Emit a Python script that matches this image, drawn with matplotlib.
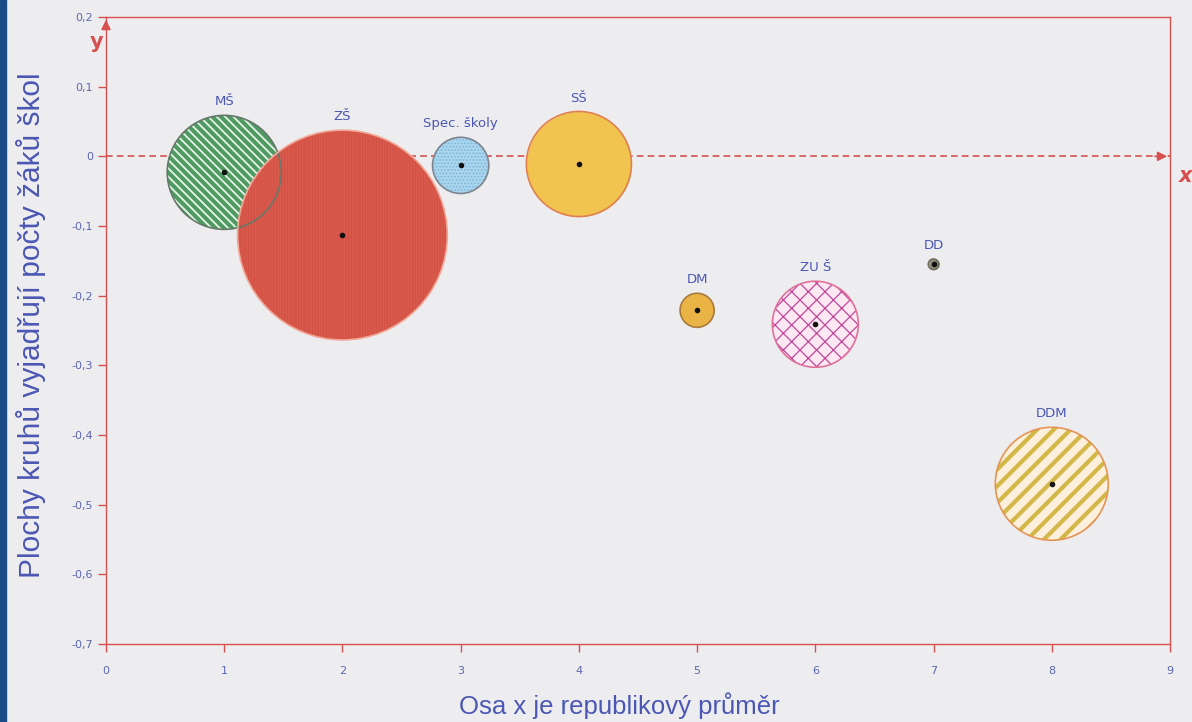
import numpy as np
import matplotlib.pyplot as plt
from matplotlib.patches import Rectangle

# typy skol, poloha na ose x a odchylka od republikoveho prumeru
skoly = ['MŠ', 'ZŠ', 'Spec. školy', 'SŠ', 'DM', 'ZU Š', 'DD', 'DDM']
osa_x = [1, 2, 3, 4, 5, 6, 7, 8]
odchylka = [-0.023, -0.113, -0.013, -0.011, -0.221, -0.241, -0.155, -0.470]
# plochy kruhu (pocty zaku, relativne)
plocha = [3250, 11000, 790, 2760, 290, 1850, 28, 3190]

y_ticks = [0.2, 0.1, 0, -0.1, -0.2, -0.3, -0.4, -0.5, -0.6, -0.7]
y_tick_labels = ['0,2', '0,1', '0', '-0,1', '-0,2', '-0,3', '-0,4', '-0,5', '-0,6', '-0,7']
x_ticks = list(range(10))

barvy = ['#4f9a63', '#d95a4c', '#aad6ee', '#f1c44f', '#e9b445', '#fbe8f3', '#8e8c78', '#fcf0dc']
srafy = ['\\\\\\\\', '||||||', '.....', None, None, 'xx', None, '//']
barvy_srafy = ['#e6f4e6', '#cf5142', '#7db6da', None, None, '#c2479a', None, '#d3b747']
sila_srafy = [1.3, 0.6, 0.8, 1, 1, 0.9, 1, 3.0]
okraje = ['#66786a', '#f2a898', '#7d8690', '#e08050', '#a97a3e', '#e0709a', '#6e6c5e', '#e49455']

cervena = '#d65050'
modra = '#4b57b3'
pozadi = '#ededf0'

fig = plt.figure(figsize=(11.92, 7.22), dpi=100, facecolor=pozadi)
ax = fig.add_axes([106/1192, 1 - 644/722, (1170 - 106)/1192, (644 - 17)/722])
ax.set_facecolor(pozadi)
fig.patches.append(Rectangle((0, 0), 6/1192, 1, transform=fig.transFigure,
                             color='#1c4a86', zorder=0))

ax.set_xlim(0, 9)
ax.set_ylim(-0.7, 0.2)

k = (2 * 0.72) ** 2  # px^2 -> pt^2
for i in range(len(skoly)):
    s = plocha[i] * k
    if srafy[i]:
        with plt.rc_context({'hatch.linewidth': sila_srafy[i]}):
            ax.scatter(osa_x[i], odchylka[i], s=s, facecolor=barvy[i],
                       edgecolor=barvy_srafy[i], hatch=srafy[i], linewidth=0, zorder=3)
    else:
        ax.scatter(osa_x[i], odchylka[i], s=s, facecolor=barvy[i], linewidth=0, zorder=3)
    ax.scatter(osa_x[i], odchylka[i], s=s, facecolor='none', edgecolor=okraje[i],
               linewidth=1.2, zorder=4)
    ax.scatter(osa_x[i], odchylka[i], s=9, color='#111111', zorder=5)
    r_pt = np.sqrt(s) / 2
    ax.annotate(skoly[i], (osa_x[i], odchylka[i]), xytext=(0, r_pt + 5),
                textcoords='offset points', ha='center', va='bottom',
                fontsize=9.5, color=modra, fontfamily='DejaVu Sans', zorder=6)

# osa x (republikovy prumer)
ax.axhline(0, color=cervena, lw=1.2, linestyle=(0, (4, 2.5)), zorder=1)
ax.annotate('', xy=(9, 0), xytext=(8.85, 0),
            arrowprops=dict(arrowstyle='-|>', color=cervena, lw=1.2,
                            mutation_scale=14), zorder=2)
ax.annotate('', xy=(0, 0.2), xytext=(0, 0.18),
            arrowprops=dict(arrowstyle='-|>', color=cervena, lw=1.2,
                            mutation_scale=14), annotation_clip=False, zorder=2)

for sp in ax.spines.values():
    sp.set_color(cervena)
    sp.set_linewidth(1.0)

ax.set_yticks(y_ticks)
ax.set_yticklabels(y_tick_labels)
ax.set_xticks(x_ticks)
ax.tick_params(axis='both', colors=cervena, length=6, width=1.0,
               labelcolor='#5c66ae', labelsize=8)
ax.tick_params(axis='x', pad=10)

fig.text(97/1192, 1 - 42/722, 'y', color=cervena, fontsize=15,
         ha='center', va='center', fontweight='bold')
fig.text(1186/1192, 1 - 176/722, 'x', color=cervena, fontsize=15,
         ha='center', va='center', fontweight='bold', style='italic')

fig.text(31/1192, 1 - 325/722, 'Plochy kruhů vyjadřují počty žáků škol',
         rotation=90, ha='center', va='center', color=modra, fontsize=21.5,
         fontfamily='Liberation Sans')
fig.text(619/1192, 1 - 706/722, 'Osa x je republikový průměr',
         ha='center', va='center', color=modra, fontsize=18.5,
         fontfamily='Liberation Sans')

fig.savefig('out.png', dpi=100, facecolor=pozadi)
